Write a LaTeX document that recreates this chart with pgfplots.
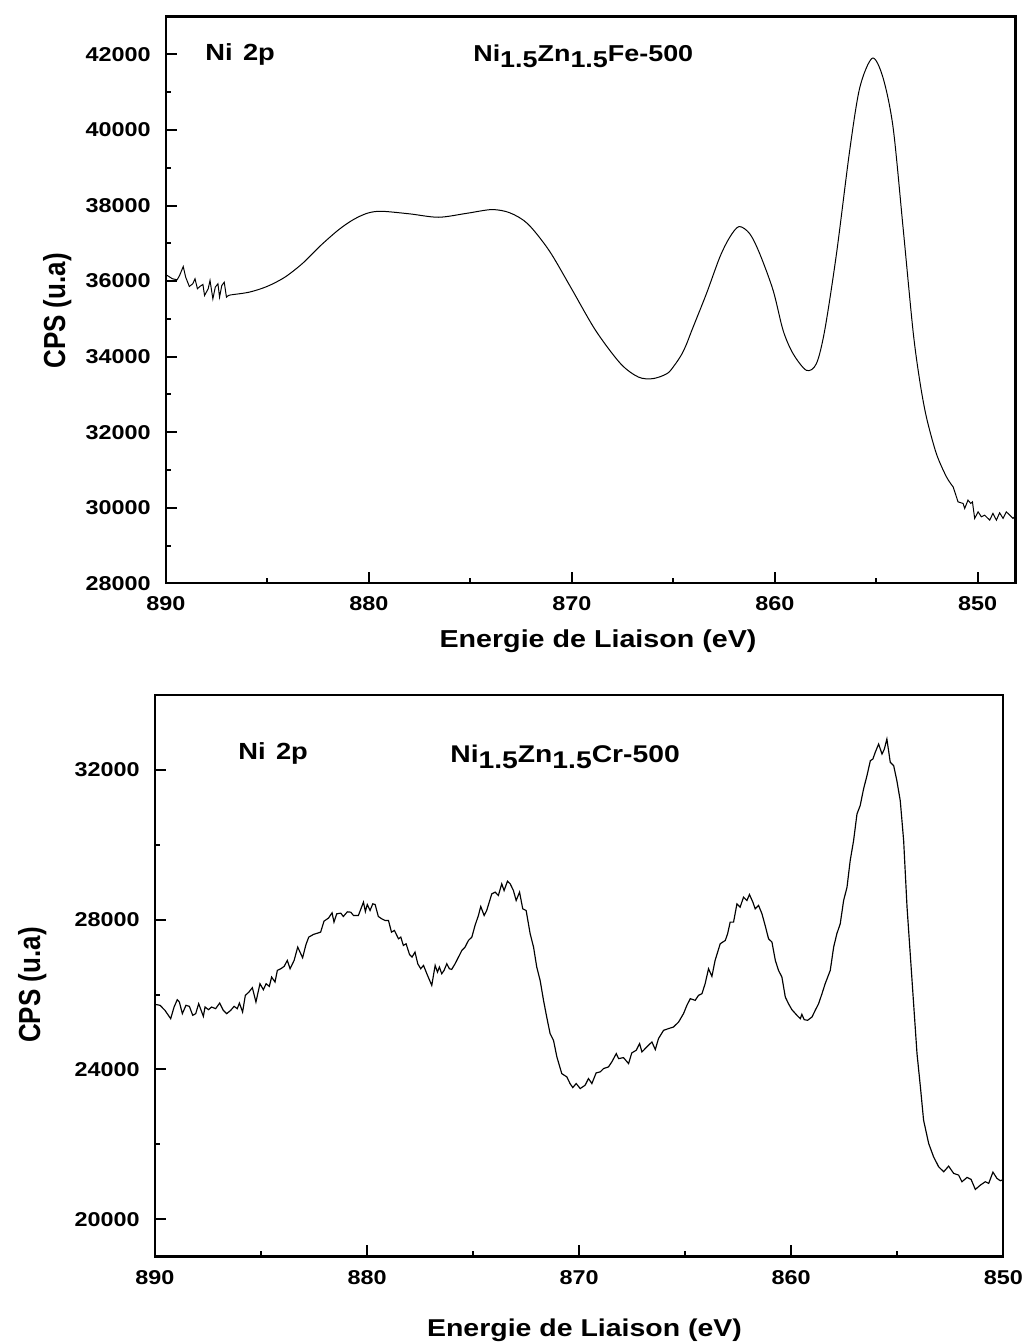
\documentclass[border=0pt]{standalone}
\usepackage{pgfplots}
\pgfplotsset{compat=1.18}
\usepackage{fontspec}
\setmainfont{Liberation Sans}[FakeStretch=1.17]
\newfontfamily\plainfont{Liberation Sans}
\pgfplotsset{
  xps/.style={
    scale only axis, x dir=reverse,
    axis line style={line width=1.4pt},
    tick align=inside, xtick pos=bottom, ytick pos=left,
    major tick length=6.8pt, minor tick length=3.3pt,
    every tick/.style={line width=1.2pt, black},
    minor x tick num=1, minor y tick num=1,
    tick label style={font=\fontsize{12}{14}\selectfont\bfseries, inner sep=0pt},
    xticklabel style={yshift=-8pt},
    yticklabel style={xshift=-9pt},
    /pgf/number format/assume math mode=true,
    /pgf/number format/set thousands separator={},
    scaled ticks=false,
    xtick={850,860,870,880,890},
  }
}
\begin{document}
\begin{tikzpicture}
\useasboundingbox (0,0) rectangle (614.4pt,805.8pt);
% ---------------- top panel
\begin{axis}[xps, at={(99.6pt,455.8pt)}, anchor=south west,
  width=509.8pt, height=340pt,
  xmin=848.13, xmax=890, ymin=28000, ymax=43000,
  ytick={28000,30000,...,42000}]
\addplot[black, line width=0.6pt] coordinates {
(890.00,36150) (889.94,36149) (889.68,36061) (889.45,36035) (889.33,36149)
(889.15,36386) (889.03,36104) (888.85,35858) (888.68,35929) (888.57,36061)
(888.45,35797) (888.33,35858) (888.18,35911) (888.10,35620) (887.92,35797)
(887.83,36016) (887.69,35532) (887.57,35840) (887.44,35929) (887.36,35575)
(887.25,35884) (887.13,35971) (887.02,35575) (886.92,35620) (886.78,35638)
};
\addplot[black, line width=0.6pt, smooth] coordinates {
(886.78,35638) (885.90,35707) (885.02,35858) (884.14,36104) (883.26,36474)
(882.38,36941) (881.50,37356) (880.79,37620) (880.09,37795) (879.39,37848)
(877.98,37779) (876.57,37690) (875.17,37795)
(873.94,37893) (873.05,37806) (872.17,37515) (871.12,36809) (870.06,35840)
(868.83,34695) (867.60,33815) (866.72,33460) (866.01,33418) (865.31,33550)
(864.96,33760) (864.61,34040) (864.35,34330) (864.10,34680) (863.37,35665)
(862.71,36632) (862.22,37161)
(861.76,37444) (861.23,37251) (860.74,36722) (860.08,35752) (859.59,34695)
(859.10,34080) (858.44,33638) (857.95,33815) (857.54,34695) (856.96,36722)
(856.31,39452) (855.81,41125) (855.19,41902) (854.67,41390) (854.17,40068)
(853.68,37425) (853.19,34695) (852.86,33373) (852.53,32403) (852.04,31436)
(851.54,30818) (851.21,30553)
};
\addplot[black, line width=0.6pt] coordinates {
(851.21,30553) (850.97,30157) (850.72,30114) (850.64,29982) (850.48,30202)
(850.34,30114) (850.26,30157) (850.15,29718) (849.98,29892) (849.82,29760)
(849.66,29805) (849.41,29673) (849.25,29850) (849.08,29673) (848.92,29866)
(848.75,29718) (848.59,29892) (848.42,29805) (848.26,29718) (848.13,29790)
};
\end{axis}
% ---------------- bottom panel
\begin{axis}[xps, at={(93pt,51.8pt)}, anchor=south west,
  width=509pt, height=337pt,
  xmin=850, xmax=890, ymin=19000, ymax=34000,
  ytick={20000,24000,28000,32000}]
\addplot[black, line width=0.7pt] coordinates {
(890.00,25738) (889.76,25712) (889.53,25578) (889.26,25356) (889.10,25667)
(888.95,25863) (888.85,25801) (888.71,25489) (888.54,25712) (888.38,25685)
(888.22,25445) (888.08,25489) (887.94,25756) (887.72,25418) (887.64,25667)
(887.48,25596) (887.33,25667) (887.14,25623) (886.95,25774) (886.78,25578)
(886.62,25489) (886.43,25578) (886.27,25685) (886.12,25623) (886.02,25774)
(885.87,25534) (885.74,25978) (885.57,26067) (885.41,26183) (885.24,25801)
(885.05,26289) (884.89,26129) (884.76,26289) (884.61,26218) (884.50,26467)
(884.34,26334) (884.23,26645) (884.07,26689) (883.91,26752) (883.76,26912)
(883.63,26689) (883.44,26912) (883.27,27267) (883.04,26983) (882.88,27338)
(882.75,27534) (882.53,27605) (882.19,27667) (882.03,27961) (881.82,28041)
(881.65,28183) (881.56,27934) (881.43,28156) (881.24,28174) (881.12,28085)
(880.93,28209) (880.77,28200) (880.64,28112) (880.41,28112) (880.17,28467)
(880.08,28218) (879.99,28405) (879.86,28245) (879.73,28423) (879.62,28405)
(879.47,28085) (879.31,28023) (879.15,27978) (878.99,27978) (878.85,27667)
(878.71,27712) (878.52,27489) (878.41,27534) (878.29,27312) (878.16,27356)
(878.00,27072) (877.88,27001) (877.74,27134) (877.61,26823) (877.47,26689)
(877.34,26778) (877.15,26512) (876.95,26245) (876.79,26778) (876.68,26600)
(876.59,26734) (876.48,26556) (876.37,26645) (876.24,26823) (876.12,26689)
(876.01,26672) (875.85,26823) (875.69,27001) (875.53,27178) (875.38,27267)
(875.22,27445) (875.06,27534) (874.91,27845) (874.75,28112) (874.64,28352)
(874.48,28112) (874.36,28245) (874.12,28689) (873.96,28734) (873.81,28645)
(873.65,28956) (873.54,28778) (873.38,29027) (873.25,28956) (873.10,28778)
(872.97,28512) (872.81,28734) (872.66,28289) (872.50,28245) (872.31,27623)
(872.15,27267) (872.00,26734) (871.84,26378) (871.68,25845) (871.53,25401)
(871.37,24956) (871.21,24778) (871.05,24334) (870.82,23889) (870.58,23800)
(870.43,23623) (870.30,23516) (870.14,23623) (869.95,23489) (869.72,23578)
(869.56,23756) (869.40,23623) (869.20,23907) (869.01,23934) (868.85,24023)
(868.62,24067) (868.46,24201) (868.25,24423) (868.14,24289) (867.91,24316)
(867.67,24156) (867.52,24441) (867.31,24512) (867.15,24690) (867.04,24467)
(866.81,24601) (866.57,24734) (866.41,24530) (866.26,24823) (866.02,25045)
(865.79,25090) (865.55,25134) (865.31,25267) (865.08,25490) (864.92,25712)
(864.76,25890) (864.53,25845) (864.37,25979) (864.21,26023) (864.06,26290)
(863.90,26690) (863.74,26485) (863.59,26912) (863.35,27356) (863.11,27445)
(863.00,27623) (862.88,27934) (862.72,27934) (862.56,28423) (862.41,28334)
(862.25,28601) (862.09,28512) (861.97,28672) (861.81,28468) (861.70,28290)
(861.54,28379) (861.38,28156) (861.23,27845) (861.07,27490) (860.91,27401)
(860.75,26912) (860.60,26645) (860.44,26467) (860.28,25934) (860.13,25756)
(859.97,25596) (859.73,25445) (859.57,25356) (859.50,25472) (859.39,25330)
(859.23,25312) (859.02,25401) (858.87,25578) (858.71,25756) (858.55,26023)
(858.40,26290) (858.16,26645) (858.00,27268) (857.85,27623) (857.69,27890)
(857.53,28512) (857.37,28868) (857.22,29579) (857.06,30112) (856.90,30823)
(856.75,31045) (856.59,31490) (856.43,31845) (856.27,32245) (856.15,32290)
(856.04,32468) (855.88,32690) (855.72,32423) (855.61,32556) (855.49,32823)
(855.33,32201) (855.17,32112) (855.02,31712) (854.86,31179) (854.70,30112)
(854.54,28334) (854.39,27090) (854.23,25756) (854.07,24423) (853.91,23534)
(853.76,22645) (853.52,22023) (853.29,21668) (853.05,21401) (852.81,21267)
(852.58,21418) (852.34,21223) (852.11,21179) (851.95,21001) (851.71,21116)
(851.52,21063) (851.32,20796) (851.08,20912) (850.85,21001) (850.69,20956)
(850.49,21258) (850.30,21090) (850.14,21027) (850.00,21060)
};
\end{axis}
% ---------------- annotations and axis titles
\node[anchor=base west, inner sep=0pt, font=\fontsize{14}{16}\selectfont\bfseries] at (123pt,769.4pt) {Ni\hspace{0.12em} 2p};
\node[anchor=base west, inner sep=0pt, font=\fontsize{13.8}{16}\selectfont\bfseries] at (283.8pt,768.6pt) {Ni\raisebox{-3.4pt}{1.5}Zn\raisebox{-3.4pt}{1.5}Fe-500};
\node[anchor=base west, inner sep=0pt, font=\fontsize{14}{16}\selectfont\bfseries] at (142.8pt,349.8pt) {Ni\hspace{0.12em} 2p};
\node[anchor=base west, inner sep=0pt, font=\fontsize{14.5}{17}\selectfont\bfseries] at (270pt,348pt) {Ni\raisebox{-3.6pt}{1.5}Zn\raisebox{-3.6pt}{1.5}Cr-500};
\node[anchor=base, inner sep=0pt, font=\fontsize{14.7}{17}\selectfont\bfseries] at (358.8pt,417pt) {Energie de Liaison (eV)};
\node[anchor=base, inner sep=0pt, font=\fontsize{14.6}{17}\selectfont\bfseries] at (350.7pt,3.6pt) {Energie de Liaison (eV)};
\node[anchor=base, inner sep=0pt, rotate=90] at (39pt,619.2pt) {\scalebox{1}[1.17]{\plainfont\fontsize{15.6}{18}\selectfont\bfseries CPS (u.a)}};
\node[anchor=base, inner sep=0pt, rotate=90] at (24pt,214.8pt) {\scalebox{1}[1.17]{\plainfont\fontsize{15.6}{18}\selectfont\bfseries CPS (u.a)}};
\end{tikzpicture}
\end{document}
